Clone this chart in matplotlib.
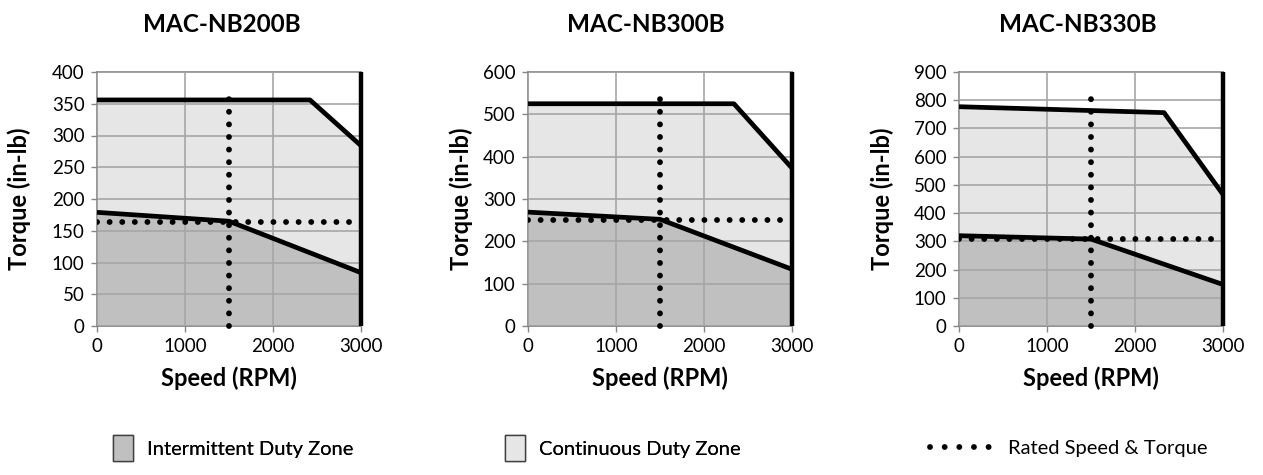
import matplotlib
matplotlib.use("Agg")
import matplotlib.pyplot as plt
from matplotlib.patches import Patch
from matplotlib.lines import Line2D

plt.rcParams['font.family'] = ['Lato', 'DejaVu Sans']

# ---- data ----
models = ["MAC-NB200B", "MAC-NB300B", "MAC-NB330B"]
y_max = [400, 600, 900]
y_step = [50, 100, 100]

# top curve (intermittent limit): speed / torque points
upper_speed = [[0, 2420, 3000], [0, 2340, 3000], [0, 2330, 3000]]
upper_torque = [[356, 356, 284], [525, 525, 373], [777, 756, 466]]

# lower curve (continuous limit)
lower_speed = [[0, 1500, 3000], [0, 1500, 3000], [0, 1500, 3000]]
lower_torque = [[179, 165, 84], [269, 252, 134], [320, 308, 147]]

rated_speed = [1500, 1500, 1500]
rated_torque = [164, 251, 308]
rated_top = [367, 550, 825]
max_speed = 3000

DARK = "#c0c0c0"
LIGHT = "#e6e6e6"
GRID = "#a6a6a6"
DOTS = (0, (0.01, 2.15))

fig = plt.figure(figsize=(12.63, 4.75), dpi=100)

W, H = 1263, 475
ax_left = [97, 528, 959]
title_x = [222, 646, 1078]
ylab_x = [-0.25, -0.21, -0.245]

for i in range(3):
    ax = fig.add_axes([ax_left[i] / W, (H - 326) / H, 264 / W, 254 / H])

    # zones
    ax.fill_between(upper_speed[i], upper_torque[i], color=LIGHT, lw=0, zorder=1)
    ax.fill_between(lower_speed[i], lower_torque[i], color=DARK, lw=0, zorder=1)

    # grid
    ax.set_axisbelow(False)
    ax.grid(True, color=GRID, lw=1.2, zorder=2)

    # curves
    ax.plot(upper_speed[i], upper_torque[i], color="black", lw=3.4,
            solid_capstyle="butt", zorder=4, clip_on=False)
    ax.plot(lower_speed[i], lower_torque[i], color="black", lw=3.4,
            solid_capstyle="butt", zorder=4, clip_on=False)
    ax.plot([max_speed, max_speed], [0, y_max[i]], color="black", lw=3.2,
            solid_capstyle="butt", zorder=4, clip_on=False)

    # rated speed & torque
    ax.plot([0, max_speed], [rated_torque[i], rated_torque[i]], color="black",
            lw=4.2, linestyle=DOTS, dash_capstyle="round", zorder=5)
    ax.plot([rated_speed[i], rated_speed[i]], [0, rated_top[i]], color="black",
            lw=4.2, linestyle=DOTS, dash_capstyle="round", zorder=5, clip_on=False)

    ax.set_xlim(0, max_speed)
    ax.set_ylim(0, y_max[i])
    ax.set_xticks(range(0, max_speed + 1, 1000))
    ax.set_yticks(range(0, y_max[i] + 1, y_step[i]))
    ax.tick_params(direction="out", length=4, width=1, color="#868686",
                   labelsize=13.5, pad=5)
    for s in ax.spines.values():
        s.set_color("#868686")
        s.set_linewidth(1.2)

    ax.set_xlabel("Speed (RPM)", fontsize=17, fontweight="bold", labelpad=8)
    ax.set_ylabel("Torque (in-lb)", fontsize=17, fontweight="bold")
    ax.yaxis.set_label_coords(ylab_x[i], 0.5)

    fig.text(title_x[i] / W, (H - 25) / H, models[i], fontsize=17.5,
             fontweight="bold", ha="center", va="center")

# ---- legend: three separate entries ----
leg_y = (H - 448) / H
common = dict(frameon=False, borderpad=0, borderaxespad=0, fontsize=14.5,
              loc="center left")
l1 = fig.legend(handles=[Patch(facecolor=DARK, edgecolor="#404040", lw=1)],
                labels=["Intermittent Duty Zone"], bbox_to_anchor=(113 / W, leg_y),
                handlelength=1.0, handleheight=1.65, handletextpad=0.7, **common)
l2 = fig.legend(handles=[Patch(facecolor=LIGHT, edgecolor="#404040", lw=1)],
                labels=["Continuous Duty Zone"], bbox_to_anchor=(505 / W, leg_y),
                handlelength=1.0, handleheight=1.65, handletextpad=0.7, **common)
l3 = fig.legend(handles=[Line2D([0], [0], color="black", lw=4.2,
                                linestyle=(0, (0.01, 2.5)), dash_capstyle="round")],
                labels=["Rated Speed & Torque"], bbox_to_anchor=(930 / W, leg_y),
                handlelength=3.1, handletextpad=0.75, **common)
fig.add_artist(l1)
fig.add_artist(l2)

fig.savefig("out.png", dpi=100)
